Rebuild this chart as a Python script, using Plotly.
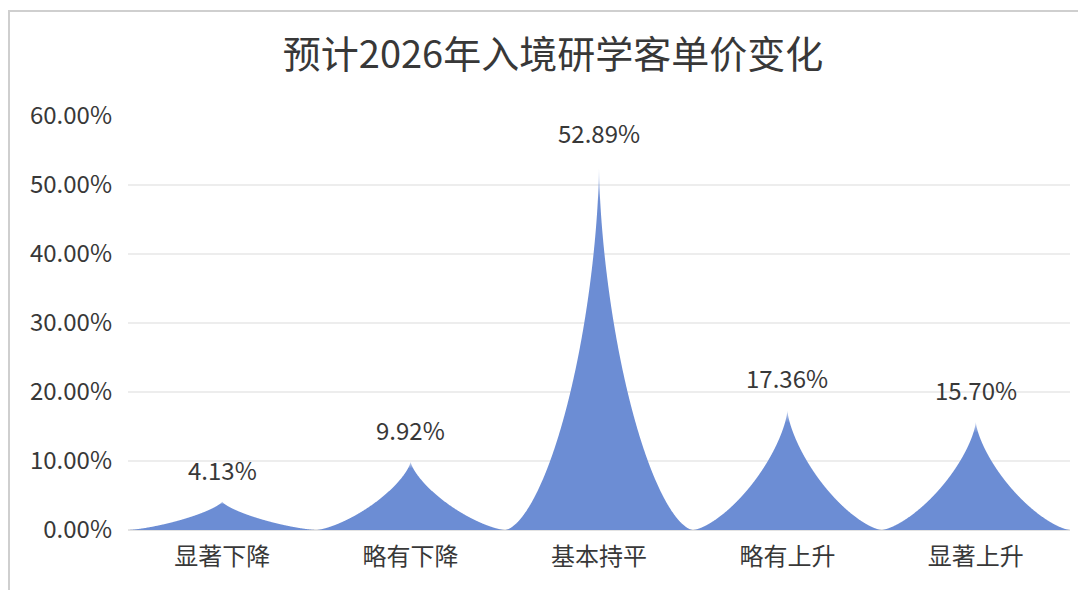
import plotly.graph_objects as go
import numpy as np

# ---- data ----
categories = ["显著下降", "略有下降", "基本持平", "略有上升", "显著上升"]
values = [4.13, 9.92, 52.89, 17.36, 15.70]
value_labels = ["4.13%", "9.92%", "52.89%", "17.36%", "15.70%"]
y_ticks = [0, 10, 20, 30, 40, 50, 60]
y_tick_labels = ["0.00%", "10.00%", "20.00%", "30.00%", "40.00%", "50.00%", "60.00%"]
title_text = "预计2026年入境研学客单价变化"

# ---- layout constants (page has an 8px body margin) ----
OFF = 8
W, H = 1078, 582
ML, MR, MT, MB = 128 - OFF, W - (1070 - OFF), 116 - OFF, H - (530 - OFF)
FONT = "Noto Sans CJK SC, Microsoft YaHei, sans-serif"
TXT = "#383838"
FILL = "rgb(108,141,212)"

fig = go.Figure()

theta = np.linspace(0, np.pi / 2, 400)
for i, val in enumerate(values):
    n = 1.35 + 0.006 * val          # superellipse exponent of the concave spike sides
    a = np.cos(theta) ** (2 / n)    # 1 - half-width fraction
    b = np.sin(theta) ** (2 / n)    # 1 - relative height
    d = 1 - a
    rel = 1 - b
    xs_left = i - 0.5 * d
    xs_right = i + 0.5 * d
    xs = np.concatenate([xs_left[::-1], xs_right])
    ys = np.concatenate([(rel * val)[::-1], rel * val])
    fig.add_trace(go.Scatter(
        x=xs, y=ys, mode="lines", fill="toself",
        line=dict(width=0, color=FILL, simplify=False),
        fillgradient=dict(type="vertical",
                          colorscale=[[0, FILL], [0.9, FILL], [1, "rgba(108,141,212,0.3)"]]),
        hoverinfo="skip", showlegend=False,
    ))
    fig.add_annotation(x=i, y=val, text=value_labels[i], showarrow=False,
                       yanchor="bottom", yshift=13,
                       font=dict(family=FONT, size=24, color=TXT))

pw = W - ML - MR
ph = H - MT - MB
def px_x(px):
    return (px - OFF - ML) / pw
def px_y(py):
    return (H - MB - (py - OFF)) / ph

fig.add_shape(type="rect", xref="paper", yref="paper",
              x0=px_x(9), x1=px_x(1120), y0=px_y(640), y1=px_y(11),
              line=dict(color="#cfcfcf", width=2), fillcolor="rgba(0,0,0,0)", layer="below")

fig.update_layout(
    width=W, height=H,
    margin=dict(l=ML, r=MR, t=MT, b=MB),
    paper_bgcolor="white", plot_bgcolor="white",
    title=dict(text=title_text, x=(553 - OFF) / W, xanchor="center", xref="container",
               y=1 - (55 - OFF) / H, yanchor="middle", yref="container",
               font=dict(family=FONT, size=38, color=TXT)),
    xaxis=dict(range=[-0.5, 4.5], tickvals=list(range(len(categories))), ticktext=categories,
               showgrid=False, zeroline=False, showline=False, ticks="",
               ticklabelstandoff=10,
               tickfont=dict(family=FONT, size=24, color=TXT), fixedrange=True),
    yaxis=dict(range=[0, 60], tickvals=y_ticks, ticktext=y_tick_labels,
               showgrid=True, gridcolor="#ededed", gridwidth=1.5,
               zeroline=True, zerolinecolor="#e3e3e3", zerolinewidth=1.5,
               showline=False, ticks="", ticklabelstandoff=15,
               tickfont=dict(family=FONT, size=24, color=TXT), fixedrange=True),
)

fig.write_html("out.html")
